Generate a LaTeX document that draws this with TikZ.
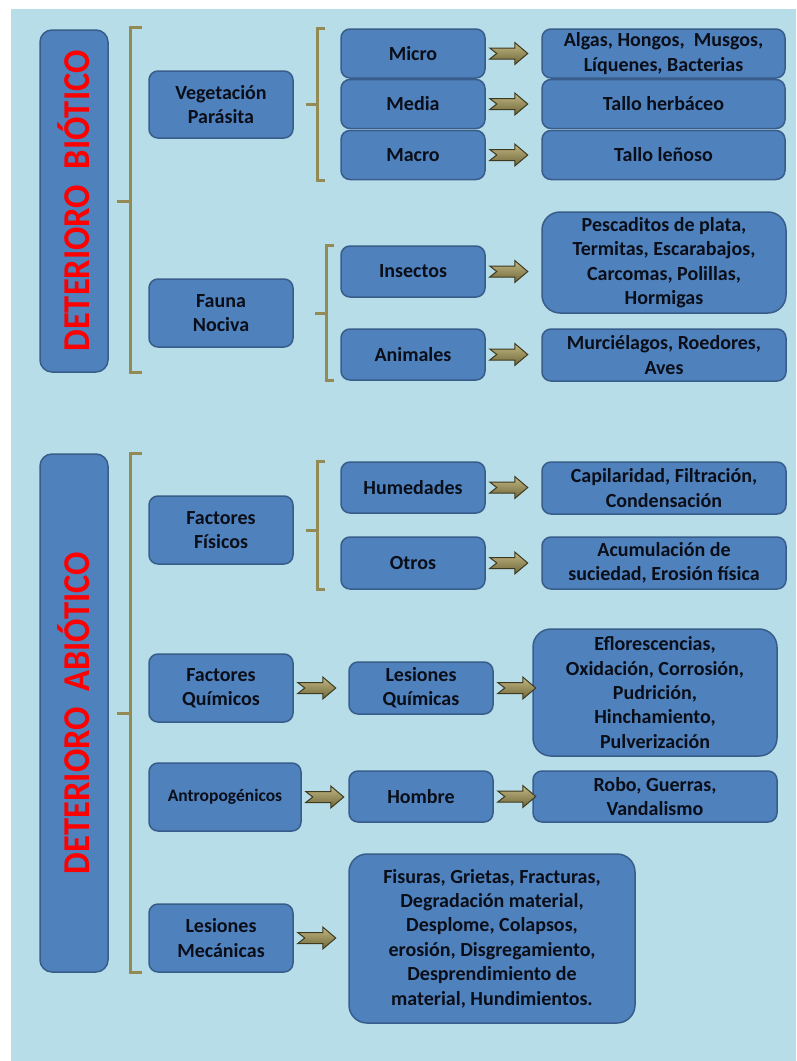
\documentclass[tikz,border=0pt]{standalone}
\usepackage{fontspec}
\setmainfont{Carlito}
\usetikzlibrary{calc}

\definecolor{fondo}{HTML}{B7DDE8}
\definecolor{cajaazul}{HTML}{4F81BD}
\definecolor{bordeazul}{HTML}{385D8A}
\definecolor{textooscuro}{HTML}{0A0E18}
\definecolor{llaveoliva}{HTML}{948A54}
\definecolor{flechaclara}{HTML}{C2B883}
\definecolor{flechaoscura}{HTML}{6E6538}
\definecolor{flechaborde}{HTML}{3E3A20}

\tikzset{
caja/.style={draw=bordeazul, fill=cajaazul, line width=1.5pt, rounded corners=9pt,
  text=textooscuro, align=center, inner sep=0pt,
  font=\bfseries\fontsize{20}{24.4}\selectfont},
cajagrande/.style={caja, rounded corners=18pt},
barra/.style={draw=bordeazul, fill=cajaazul, line width=1.5pt, rounded corners=12pt,
  minimum width=68, inner sep=0pt},
titulo/.style={rotate=90, text=red, font=\bfseries\fontsize{34.5}{40}\selectfont},
llave/.style={draw=llaveoliva, line width=3pt},
flechaestilo/.style={draw=flechaborde, line width=1pt, line join=miter,
  top color=flechaclara, bottom color=flechaoscura}
}

% block arrow from one box towards the next
\newcommand{\flecha}[2]{%
\path ($(#1.east)+(4,0)$) coordinate (t)
  ($(t)!38pt!(t -| #2.west)$) coordinate (h);
\draw[flechaestilo] ($(t)+(0,-5.5)$) -- ($(h)+(-13,-5.5)$) -- ($(h)+(-13,-11)$)
  -- (h) -- ($(h)+(-13,11)$) -- ($(h)+(-13,5.5)$) -- ($(t)+(0,5.5)$)
  -- ($(t)+(7,0)$) -- cycle;
}

\begin{document}
\begin{tikzpicture}[x=1pt, y=-1pt]

%%%%%%%%%%%%%%%%%%%%%%%%%%%%%%%%%%%%%%%%%%%%%%%%%%%%%%
% BACKGROUND
%%%%%%%%%%%%%%%%%%%%%%%%%%%%%%%%%%%%%%%%%%%%%%%%%%%%%%

\fill[white] (0,0) rectangle (796,1061);
\useasboundingbox (0,0) rectangle (796,1061);
\fill[fondo] (11,9) rectangle (796,1061);

%%%%%%%%%%%%%%%%%%%%%%%%%%%%%%%%%%%%%%%%%%%%%%%%%%%%%%
% DETERIORO BIOTICO
%%%%%%%%%%%%%%%%%%%%%%%%%%%%%%%%%%%%%%%%%%%%%%%%%%%%%%

\node[barra, minimum height=342](barB) at (74,201){};
\node[titulo](tituloB) at (barB.center){\scalebox{1}[1.1]{DETERIORO\ \ BIÓTICO}};

\node[caja, minimum width=144, minimum height=67](veg) at (221,104.5){Vegetación\\Parásita};

\node[caja, minimum width=144, minimum height=49](micro) at (413,53.5){Micro};
\node[caja, minimum width=144, minimum height=49](media) at (413,104){Media};
\node[caja, minimum width=144, minimum height=49](macro) at (413,155){Macro};

\node[caja, minimum width=243, minimum height=49](algas) at (663.5,53.5){Algas, Hongos,\ \ Musgos,\\Líquenes, Bacterias};
\node[caja, minimum width=243, minimum height=49](herb) at (663.5,104){Tallo herbáceo};
\node[caja, minimum width=243, minimum height=49](lenoso) at (663.5,155){Tallo leñoso};

\node[caja, minimum width=144, minimum height=68](fauna) at (221,313){Fauna\\Nociva};

\node[caja, minimum width=144, minimum height=51](insectos) at (413,271.5){Insectos};
\node[caja, minimum width=144, minimum height=51](animales) at (413,354.5){Animales};

\node[cajagrande, minimum width=244, minimum height=101](pescaditos) at (664,262.5)
{Pescaditos de plata,\\Termitas, Escarabajos,\\Carcomas, Polillas,\\Hormigas};
\node[caja, minimum width=244, minimum height=52](murcielagos) at (664,355)
{Murciélagos, Roedores,\\Aves};

%%%%%%%%%%%%%%%%%%%%%%%%%%%%%%%%%%%%%%%%%%%%%%%%%%%%%%
% DETERIORO ABIOTICO
%%%%%%%%%%%%%%%%%%%%%%%%%%%%%%%%%%%%%%%%%%%%%%%%%%%%%%

\node[barra, minimum height=518](barA) at (74,713){};
\node[titulo](tituloA) at (barA.center){\scalebox{1}[1.1]{DETERIORO\ \ ABIÓTICO}};

\node[caja, minimum width=144, minimum height=68](fisicos) at (221,530){Factores\\Físicos};

\node[caja, minimum width=144, minimum height=51](humedades) at (413,487.5){Humedades};
\node[caja, minimum width=144, minimum height=52](otros) at (413,563){Otros};

\node[caja, minimum width=244, minimum height=52](capilaridad) at (664,488)
{Capilaridad, Filtración,\\Condensación};
\node[caja, minimum width=244, minimum height=52](acumulacion) at (664,563)
{Acumulación de\\suciedad, Erosión física};

\node[caja, minimum width=144, minimum height=68](quimicos) at (221,688){Factores\\Químicos};
\node[caja, minimum width=144, minimum height=52](lesq) at (421,688){Lesiones\\Químicas};
\node[cajagrande, minimum width=244, minimum height=127](eflor) at (655,692.5)
{Eflorescencias,\\Oxidación, Corrosión,\\Pudrición,\\Hinchamiento,\\Pulverización};

\node[caja, minimum width=152, minimum height=68,
font=\bfseries\fontsize{17.5}{21}\selectfont](antrop) at (225,797){Antropogénicos};
\node[caja, minimum width=144, minimum height=51](hombre) at (421,796.5){Hombre};
\node[caja, minimum width=244, minimum height=51](robo) at (655,796.5){Robo, Guerras,\\Vandalismo};

\node[caja, minimum width=144, minimum height=68](mecanicas) at (221,938){Lesiones\\Mecánicas};
\node[cajagrande, minimum width=286, minimum height=169](fisuras) at (492,938.5)
{Fisuras, Grietas, Fracturas,\\Degradación material,\\Desplome, Colapsos,\\erosión, Disgregamiento,\\Desprendimiento de\\material, Hundimientos.};

%%%%%%%%%%%%%%%%%%%%%%%%%%%%%%%%%%%%%%%%%%%%%%%%%%%%%%
% BRACKETS
%%%%%%%%%%%%%%%%%%%%%%%%%%%%%%%%%%%%%%%%%%%%%%%%%%%%%%

\draw[llave] ($(barB.north east)+(33,-2)$) -| ($(barB.south east)+(22,0)$) -- ++(11,0);
\draw[llave] ($(barB.east)+(22,0)$) -- ++(-14,0);

\draw[llave] ($(micro.north west)+(-15,0)$) -| ($(macro.south west)+(-23,0)$) -- ++(8,0);
\draw[llave] ($(macro.south west |- veg.east)+(-23,0)$) -- ++(-11,0);

\draw[llave] ($(insectos.north west)+(-6,0)$) -| ($(animales.south west)+(-14,0)$) -- ++(8,0);
\draw[llave] ($(animales.south west |- fauna.east)+(-14,0)$) -- ++(-11,0);

\draw[llave] ($(barA.north east)+(33,0)$) -| ($(barA.south east)+(22,0)$) -- ++(11,0);
\draw[llave] ($(barA.east)+(22,0)$) -- ++(-14,0);

\draw[llave] ($(humedades.north west)+(-15,0)$) -| ($(otros.south west)+(-23,0)$) -- ++(8,0);
\draw[llave] ($(otros.south west |- fisicos.east)+(-23,0)$) -- ++(-11,0);

%%%%%%%%%%%%%%%%%%%%%%%%%%%%%%%%%%%%%%%%%%%%%%%%%%%%%%
% ARROWS
%%%%%%%%%%%%%%%%%%%%%%%%%%%%%%%%%%%%%%%%%%%%%%%%%%%%%%

\flecha{micro}{algas}
\flecha{media}{herb}
\flecha{macro}{lenoso}
\flecha{insectos}{pescaditos}
\flecha{animales}{murcielagos}

\flecha{humedades}{capilaridad}
\flecha{otros}{acumulacion}
\flecha{quimicos}{lesq}
\flecha{lesq}{eflor}
\flecha{antrop}{hombre}
\flecha{hombre}{robo}
\flecha{mecanicas}{fisuras}

\end{tikzpicture}
\end{document}
